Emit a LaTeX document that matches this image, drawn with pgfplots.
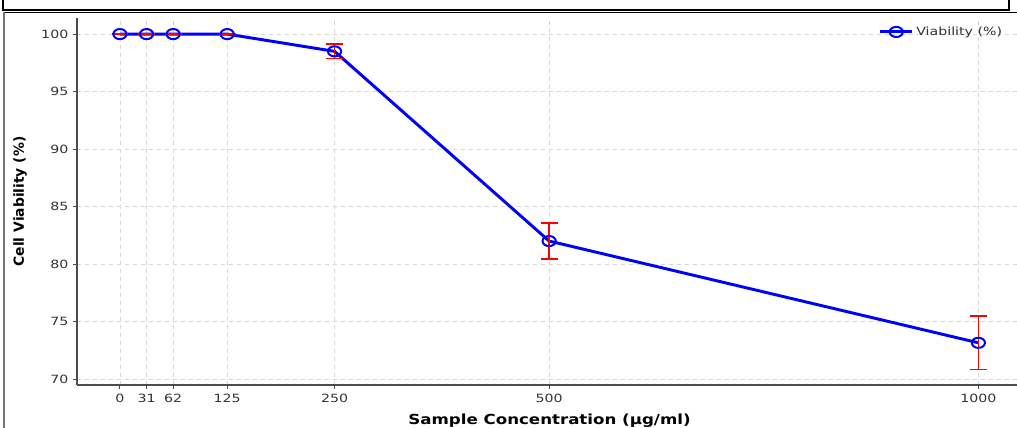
\documentclass[border=0pt]{standalone}
\usepackage{graphicx}
\usepackage{pgfplots}
\pgfplotsset{compat=1.18}
\usepackage{fontspec}
\setmainfont{DejaVu Sans}
\newcommand\hsc[1]{\scalebox{1.25}[1]{#1}}
\begin{document}
\begin{tikzpicture}[x=0.75pt,y=0.75pt]
\clip (0,0) rectangle (1017,428);
\path[use as bounding box] (0,0) rectangle (1017,428);
\begin{axis}[
  at={(57.75pt,32.25pt)}, anchor=south west,
  scale only axis, width=705pt, height=275.25pt,
  xmin=-50, xmax=1045, ymin=69.48, ymax=101.4,
  axis lines=left, axis line style={-, black!70, line width=0.9pt},
  xtick={0,31,62,125,250,500,1000},
  xticklabels={\hsc{0},\hsc{31},\hsc{62},\hsc{125},\hsc{250},\hsc{500},\hsc{1000}},
  ytick={70,75,80,85,90,95,100},
  yticklabels={\hsc{70},\hsc{75},\hsc{80},\hsc{85},\hsc{90},\hsc{95},\hsc{100}},
  tick align=outside, tick style={black!70, line width=0.7pt},
  major tick length=3pt,
  grid=major, grid style={dashed, black!16, line width=0.5pt},
  tick label style={font=\fontsize{8.5}{10}\selectfont, text=black!80},
  xlabel={\scalebox{1.2}[1]{\textbf{Sample Concentration (µg/ml)}}},
  ylabel={\textbf{Cell Viability (\%)}},
  label style={font=\fontsize{10.4}{12}\selectfont},
  xlabel style={at={(axis description cs:0.5027,-0.097)}, anchor=center},
  ylabel style={at={(axis description cs:-0.0606,0.5)}, anchor=center},
  legend style={at={(axis description cs:0.9915,0.962)}, anchor=east, draw=none, fill=none, font=\fontsize{8.5}{10}\selectfont, text=black!80},
  legend image code/.code={\draw[line width=2.2pt, mark repeat=2,mark phase=2] plot coordinates {(0cm,0cm)(0.42cm,0cm)(0.84cm,0cm)};},
  legend cell align=left,
  clip=false,
]
\addplot[blue, line width=2.2pt, mark=o, mark size=3.8pt, mark options={solid, line width=1.5pt, fill=none, xscale=1.3},
  error bars/.cd, y dir=both, y explicit,
  error bar style={red, line width=1.2pt},
  error mark options={rotate=90, draw=red, mark size=6.3pt, line width=1.2pt}]
  coordinates {
  (0,100) +- (0,0)
  (31,100) +- (0,0)
  (62,100) +- (0,0)
  (125,100) +- (0,0)
  (250,98.5) +- (0,0.64)
  (500,82.0) +- (0,1.58)
  (1000,73.15) +- (0,2.33)
  };
\addlegendentry{\hsc{Viability (\%)}}
\end{axis}
\draw[line width=1.2pt] (3,433) -- (3,418) -- (1009,418) -- (1009,433);
\draw[line width=1pt] (3,415.5) -- (1017,415.5);
\draw[black!55, line width=1.2pt] (4,415.5) -- (4,-2);
\end{tikzpicture}
\end{document}
